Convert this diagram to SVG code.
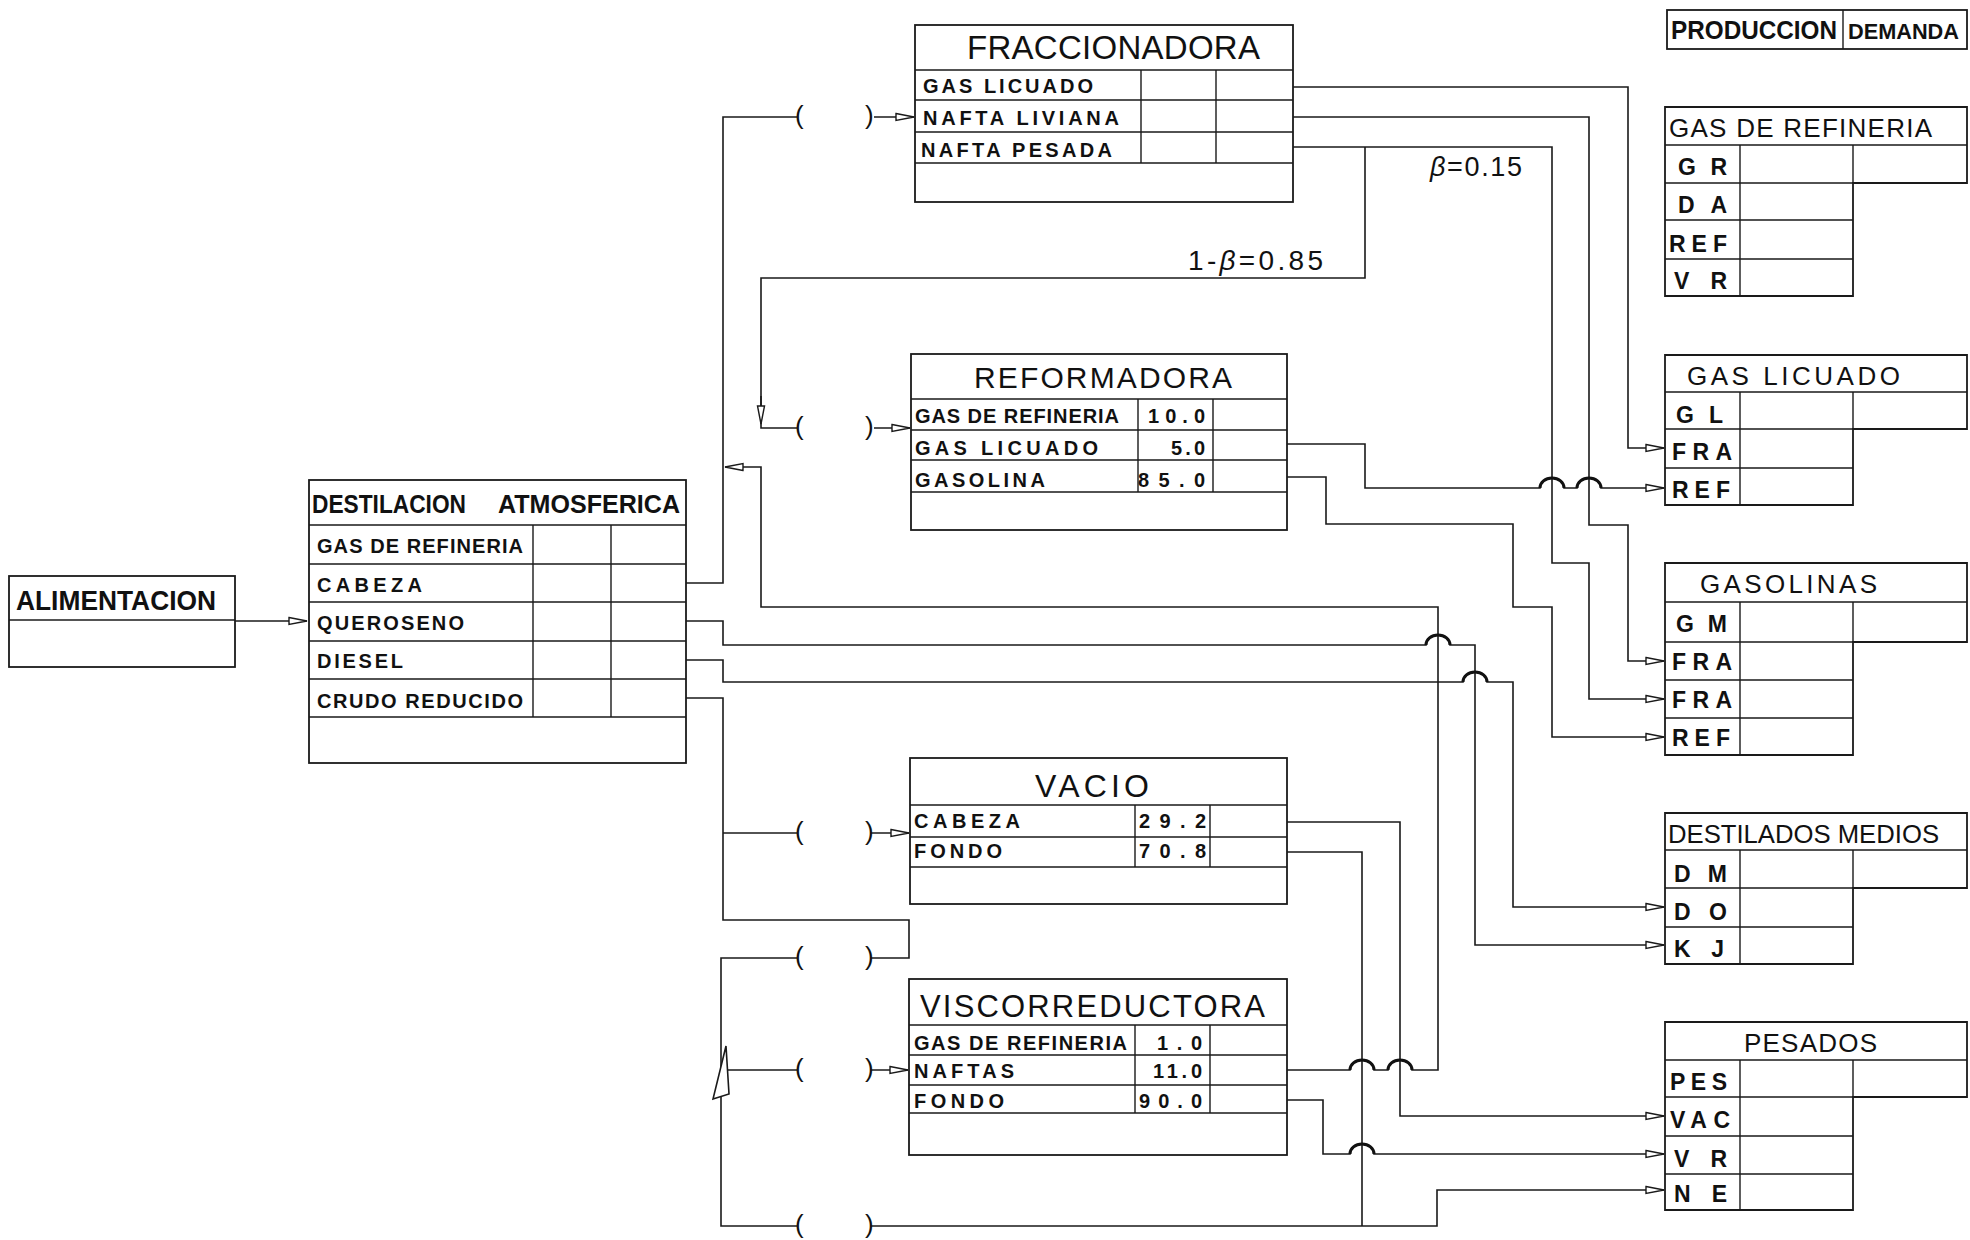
<svg xmlns="http://www.w3.org/2000/svg" width="1970" height="1240" viewBox="0 0 1970 1240">
<style>
.ln{fill:none;stroke:#1a1a1a;stroke-width:1.6}
.bx{fill:#fff;stroke:#1a1a1a;stroke-width:1.8}
.gd{fill:none;stroke:#1a1a1a;stroke-width:1.4}
.hop{fill:none;stroke:#111;stroke-width:3}
text{font-family:"Liberation Sans",Arial,sans-serif;fill:#111}
.row{font-size:20px;font-weight:bold}
.lab{font-size:23px;font-weight:bold}
.hdr{font-size:26px}
.br{font-size:26px}
</style>
<defs>
<marker id="ah" viewBox="0 0 20 10" refX="19" refY="5" markerWidth="20" markerHeight="10" markerUnits="userSpaceOnUse" orient="auto">
<path d="M1,1.5 L19,5 L1,8.5 Z" fill="#fff" stroke="#1a1a1a" stroke-width="1.4"/>
</marker>
</defs>
<rect width="1970" height="1240" fill="#fff"/>

<g id="connectors">
<path class="ln" d="M235,621 H307" marker-end="url(#ah)"/>
<path class="ln" d="M686,583 H723 V117 H797"/>
<path class="ln" d="M874,117 H914" marker-end="url(#ah)"/>
<path class="ln" d="M1287,1070 H1350 A12,10 0 0 1 1374,1070 H1388 A12,10 0 0 1 1412,1070 H1438 V607 H761 V467 H725" marker-end="url(#ah)"/>
<path class="ln" d="M1293,87 H1628 V448 H1664" marker-end="url(#ah)"/>
<path class="ln" d="M1293,117 H1589 V525 H1628 V661 H1664" marker-end="url(#ah)"/>
<path class="ln" d="M1293,147 H1552 V563 H1589 V699 H1664" marker-end="url(#ah)"/>
<path class="ln" d="M1365,147 V278 H761 V428 H797"/>
<path class="ln" d="M761,396 V424" marker-end="url(#ah)"/>
<path class="ln" d="M874,428 H910" marker-end="url(#ah)"/>
<path class="ln" d="M1287,444 H1365 V488 H1540 A12,10 0 0 1 1564,488 H1577 A12,10 0 0 1 1601,488 H1664" marker-end="url(#ah)"/>
<path class="ln" d="M1287,477 H1326 V524 H1513 V607 H1552 V737 H1664" marker-end="url(#ah)"/>
<path class="ln" d="M686,621 H723 V645 H1426 A12,10 0 0 1 1450,645 H1475 V945 H1664" marker-end="url(#ah)"/>
<path class="ln" d="M686,660 H723 V682 H1463 A12,10 0 0 1 1487,682 H1513 V907 H1664" marker-end="url(#ah)"/>
<path class="ln" d="M686,698 H723 V920 H909 V958 H871"/>
<path class="ln" d="M723,833 H797"/>
<path class="ln" d="M871,833 H909" marker-end="url(#ah)"/>
<path class="ln" d="M797,958 H721 V1226 H797 M721,1070 H797"/>
<path class="ln" d="M871,1070 H908" marker-end="url(#ah)"/>
<polygon points="713,1099 729,1094 726,1046" fill="#fff" stroke="#1a1a1a" stroke-width="1.6"/>
<path class="ln" d="M871,1226 H1437 V1190 H1664" marker-end="url(#ah)"/>
<path class="ln" d="M1287,822 H1400 V1116 H1664" marker-end="url(#ah)"/>
<path class="ln" d="M1287,852 H1362 V1226"/>
<path class="ln" d="M1287,1100 H1323 V1154 H1350 A12,10 0 0 1 1374,1154 H1664" marker-end="url(#ah)"/>
<path class="hop" d="M1350,1070 A12,10 0 0 1 1374,1070 M1388,1070 A12,10 0 0 1 1412,1070 M1350,1154 A12,10 0 0 1 1374,1154 M1426,645 A12,10 0 0 1 1450,645 M1463,682 A12,10 0 0 1 1487,682 M1540,488 A12,10 0 0 1 1564,488 M1577,488 A12,10 0 0 1 1601,488"/>
<text class="br" x="795" y="124">(</text><text class="br" x="865" y="124">)</text>
<text class="br" x="795" y="435">(</text><text class="br" x="865" y="435">)</text>
<text class="br" x="795" y="840">(</text><text class="br" x="865" y="840">)</text>
<text class="br" x="795" y="965">(</text><text class="br" x="865" y="965">)</text>
<text class="br" x="795" y="1077">(</text><text class="br" x="865" y="1077">)</text>
<text class="br" x="795" y="1233">(</text><text class="br" x="865" y="1233">)</text>
<text x="1430" y="176" font-size="27" textLength="92" lengthAdjust="spacing"><tspan font-style="italic">β</tspan>=0.15</text>
<text x="1188" y="270" font-size="28" textLength="135" lengthAdjust="spacing">1-<tspan font-style="italic">β</tspan>=0.85</text>
</g>

<g id="alimentacion">
<rect class="bx" x="9" y="576" width="226" height="91"/>
<path class="gd" d="M9,620 H235"/>
<text x="16" y="610" font-size="27" font-weight="bold" textLength="200" lengthAdjust="spacingAndGlyphs">ALIMENTACION</text>
</g>

<g id="destilacion">
<rect class="bx" x="309" y="480" width="377" height="283"/>
<path class="gd" d="M309,525H686 M309,564H686 M309,602H686 M309,641H686 M309,679H686 M309,717H686 M533,525V717 M611,525V717"/>
<text font-size="26" font-weight="bold"><tspan x="312" y="513" textLength="154" lengthAdjust="spacingAndGlyphs">DESTILACION</tspan> <tspan x="498" y="513" textLength="182" lengthAdjust="spacingAndGlyphs">ATMOSFERICA</tspan></text>
<text class="row" x="317" y="553" textLength="206" lengthAdjust="spacing">GAS DE REFINERIA</text>
<text class="row" x="317" y="592" textLength="105" lengthAdjust="spacing">CABEZA</text>
<text class="row" x="317" y="630" textLength="147" lengthAdjust="spacing">QUEROSENO</text>
<text class="row" x="317" y="668" textLength="86" lengthAdjust="spacing">DIESEL</text>
<text class="row" x="317" y="708" textLength="206" lengthAdjust="spacing">CRUDO REDUCIDO</text>
</g>

<g id="fraccionadora">
<rect class="bx" x="915" y="25" width="378" height="177"/>
<path class="gd" d="M915,70H1293 M915,100H1293 M915,132H1293 M915,163H1293 M1141,70V163 M1216,70V163"/>
<text x="967" y="59" font-size="33" textLength="293" lengthAdjust="spacing">FRACCIONADORA</text>
<text class="row" x="923" y="93" textLength="170" lengthAdjust="spacing">GAS LICUADO</text>
<text class="row" x="923" y="125" textLength="196" lengthAdjust="spacing">NAFTA LIVIANA</text>
<text class="row" x="921" y="157" textLength="191" lengthAdjust="spacing">NAFTA PESADA</text>
</g>

<g id="reformadora">
<rect class="bx" x="911" y="354" width="376" height="176"/>
<path class="gd" d="M911,399H1287 M911,430H1287 M911,460H1287 M911,492H1287 M1138,399V492 M1213,399V492"/>
<text x="974" y="388" font-size="30" textLength="258" lengthAdjust="spacing">REFORMADORA</text>
<text class="row" x="915" y="423" textLength="204" lengthAdjust="spacing">GAS DE REFINERIA</text>
<text class="row" x="1148" y="423" textLength="57" lengthAdjust="spacing">10.0</text>
<text class="row" x="915" y="455" textLength="183" lengthAdjust="spacing">GAS LICUADO</text>
<text class="row" x="1171" y="455" textLength="34" lengthAdjust="spacing">5.0</text>
<text class="row" x="915" y="487" textLength="130" lengthAdjust="spacing">GASOLINA</text>
<text class="row" x="1138" y="487" textLength="67" lengthAdjust="spacing">85.0</text>
</g>

<g id="vacio">
<rect class="bx" x="910" y="758" width="377" height="146"/>
<path class="gd" d="M910,805H1287 M910,837H1287 M910,867H1287 M1135,805V867 M1210,805V867"/>
<text x="1035" y="797" font-size="32" textLength="114" lengthAdjust="spacing">VACIO</text>
<text class="row" x="914" y="828" textLength="106" lengthAdjust="spacing">CABEZA</text>
<text class="row" x="1139" y="828" textLength="67" lengthAdjust="spacing">29.2</text>
<text class="row" x="914" y="858" textLength="88" lengthAdjust="spacing">FONDO</text>
<text class="row" x="1139" y="858" textLength="67" lengthAdjust="spacing">70.8</text>
</g>

<g id="viscorreductora">
<rect class="bx" x="909" y="979" width="378" height="176"/>
<path class="gd" d="M909,1025H1287 M909,1055H1287 M909,1085H1287 M909,1113H1287 M1135,1025V1113 M1210,1025V1113"/>
<text x="920" y="1017" font-size="31" textLength="345" lengthAdjust="spacing">VISCORREDUCTORA</text>
<text class="row" x="914" y="1050" textLength="213" lengthAdjust="spacing">GAS DE REFINERIA</text>
<text class="row" x="1157" y="1050" textLength="45" lengthAdjust="spacing">1.0</text>
<text class="row" x="914" y="1078" textLength="100" lengthAdjust="spacing">NAFTAS</text>
<text class="row" x="1153" y="1078" textLength="49" lengthAdjust="spacing">11.0</text>
<text class="row" x="914" y="1108" textLength="90" lengthAdjust="spacing">FONDO</text>
<text class="row" x="1139" y="1108" textLength="63" lengthAdjust="spacing">90.0</text>
</g>

<g id="produccion-demanda">
<rect class="bx" x="1667" y="10" width="300" height="39" stroke-width="2.4"/>
<path class="gd" d="M1843,10V49" stroke-width="2"/>
<text x="1671" y="39" font-size="25" font-weight="bold" textLength="166" lengthAdjust="spacingAndGlyphs">PRODUCCION</text>
<text x="1848" y="39" font-size="22" font-weight="bold" textLength="111" lengthAdjust="spacingAndGlyphs">DEMANDA</text>
</g>

<g id="gas-de-refineria">
<path class="bx" d="M1665,107 H1967 V183 H1853 V296 H1665 Z"/>
<path class="gd" d="M1665,145H1967 M1665,183H1853 M1665,220H1853 M1665,259H1853 M1740,145V296 M1853,145V183"/>
<text class="hdr" x="1669" y="137" textLength="263" lengthAdjust="spacing">GAS DE REFINERIA</text>
<text class="lab" x="1678" y="175" textLength="49" lengthAdjust="spacing">G R</text>
<text class="lab" x="1678" y="213" textLength="49" lengthAdjust="spacing">D A</text>
<text class="lab" x="1669" y="252" textLength="58" lengthAdjust="spacing">REF</text>
<text class="lab" x="1674" y="289" textLength="53" lengthAdjust="spacing">V R</text>
</g>

<g id="gas-licuado">
<path class="bx" d="M1665,355 H1967 V429 H1853 V505 H1665 Z"/>
<path class="gd" d="M1665,392H1967 M1665,429H1853 M1665,468H1853 M1740,392V505 M1853,392V429"/>
<text class="hdr" x="1687" y="385" textLength="213" lengthAdjust="spacing">GAS LICUADO</text>
<text class="lab" x="1676" y="423" textLength="47" lengthAdjust="spacing">G L</text>
<text class="lab" x="1672" y="460" textLength="60" lengthAdjust="spacing">FRA</text>
<text class="lab" x="1672" y="498" textLength="58" lengthAdjust="spacing">REF</text>
</g>

<g id="gasolinas">
<path class="bx" d="M1665,563 H1967 V642 H1853 V755 H1665 Z"/>
<path class="gd" d="M1665,602H1967 M1665,642H1853 M1665,680H1853 M1665,718H1853 M1740,602V755 M1853,602V642"/>
<text class="hdr" x="1700" y="593" textLength="177" lengthAdjust="spacing">GASOLINAS</text>
<text class="lab" x="1676" y="632" textLength="51" lengthAdjust="spacing">G M</text>
<text class="lab" x="1672" y="670" textLength="60" lengthAdjust="spacing">FRA</text>
<text class="lab" x="1672" y="708" textLength="60" lengthAdjust="spacing">FRA</text>
<text class="lab" x="1672" y="746" textLength="58" lengthAdjust="spacing">REF</text>
</g>

<g id="destilados-medios">
<path class="bx" d="M1665,813 H1967 V888 H1853 V964 H1665 Z"/>
<path class="gd" d="M1665,850H1967 M1665,888H1853 M1665,927H1853 M1740,850V964 M1853,850V888"/>
<text class="hdr" x="1668" y="843" textLength="271" lengthAdjust="spacingAndGlyphs">DESTILADOS MEDIOS</text>
<text class="lab" x="1674" y="882" textLength="53" lengthAdjust="spacing">D M</text>
<text class="lab" x="1674" y="920" textLength="53" lengthAdjust="spacing">D O</text>
<text class="lab" x="1674" y="957" textLength="50" lengthAdjust="spacing">K J</text>
</g>

<g id="pesados">
<path class="bx" d="M1665,1022 H1967 V1097 H1853 V1210 H1665 Z"/>
<path class="gd" d="M1665,1060H1967 M1665,1097H1853 M1665,1136H1853 M1665,1174H1853 M1740,1060V1210 M1853,1060V1097"/>
<text class="hdr" x="1744" y="1052" textLength="133" lengthAdjust="spacing">PESADOS</text>
<text class="lab" x="1670" y="1090" textLength="57" lengthAdjust="spacing">PES</text>
<text class="lab" x="1670" y="1128" textLength="60" lengthAdjust="spacing">VAC</text>
<text class="lab" x="1674" y="1167" textLength="53" lengthAdjust="spacing">V R</text>
<text class="lab" x="1674" y="1202" textLength="53" lengthAdjust="spacing">N E</text>
</g>
</svg>
